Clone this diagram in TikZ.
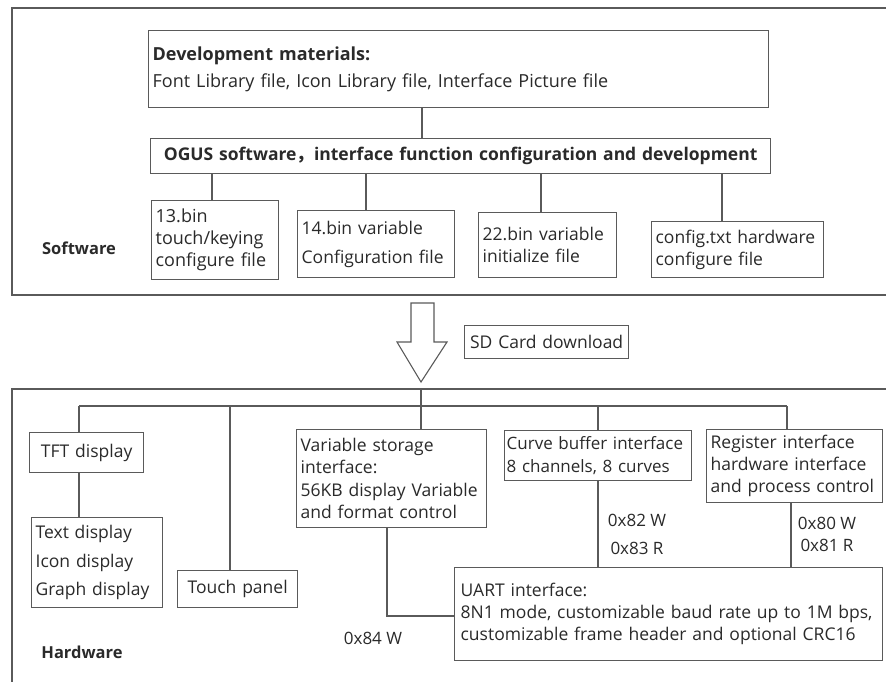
\documentclass[tikz,border=0pt]{standalone}
\usepackage{fontspec}
\setmainfont{Open Sans}
\newfontfamily\cjk{Noto Sans CJK SC}
\newcommand\fs[2]{\fontsize{#1}{#2}\selectfont}
\definecolor{linec}{HTML}{5A5A5A}
\definecolor{textc}{HTML}{2A2A2A}
\begin{document}
\begin{tikzpicture}[x=1pt,y=-1pt,
  every node/.style={text=textc},
  line/.style={draw=linec,line width=1.3pt},
  box/.style={draw=linec,line width=1.3pt,anchor=north west,align=left,inner xsep=4pt,inner ysep=0pt},
  lbl/.style={inner sep=0pt}]
\useasboundingbox[fill=white] (0,0) rectangle (886,681);
% outer frames
\draw[line] (886,8) -- (12,8) -- (12,295) -- (886,295);
\draw[line] (886,389) -- (12,389) -- (12,685);
% software part
\node[box,minimum width=620pt,minimum height=77pt,text width=612pt,font=\fs{18}{27}] (dev) at (148,30)
  {\textbf{Development materials:}\\Font Library file, Icon Library file, Interface Picture file};
\node[box,minimum width=620pt,minimum height=35pt,align=center,text width=612pt,font=\fs{17.5}{20}] (ogus) at (150,138)
  {\textbf{OGUS software{\cjk ，}interface function configuration and development}};
\node[box,minimum width=127pt,minimum height=79pt,text width=119pt,font=\fs{18}{22}] (b13) at (151,200)
  {13.bin\\touch/keying\\configure file};
\node[box,minimum width=157pt,minimum height=67pt,text width=149pt,font=\fs{17.5}{29}] (b14) at (297,210)
  {14.bin variable\\Configuration file};
\node[box,minimum width=138pt,minimum height=65pt,text width=130pt,font=\fs{17.5}{22}] (b22) at (478,212)
  {22.bin variable\\initialize file};
\node[box,minimum width=172pt,minimum height=56pt,text width=164pt,font=\fs{17.5}{22}] (cfg) at (651,221)
  {config.txt hardware\\configure file};
\node[lbl,font=\fs{16.5}{20}] (sw) at (79,248) {\textbf{Software}};
\draw[line] (dev.south -| 422,0) -- (ogus.north -| 422,0);
\draw[line] (ogus.south -| 212,0) -- (b13.north -| 212,0);
\draw[line] (ogus.south -| 366,0) -- (b14.north -| 366,0);
\draw[line] (ogus.south -| 541,0) -- (b22.north -| 541,0);
\draw[line] (ogus.south -| 722,0) -- (cfg.north -| 722,0);
% download arrow
\draw[draw=linec,line width=1.1pt,fill=white] (411,303) -- (434,303) -- (434,342) -- (447,342) -- (421,382) -- (397,342) -- (411,342) -- cycle;
\node[box,minimum width=164pt,minimum height=33pt,align=center,text width=156pt,font=\fs{17.5}{20}] (sd) at (464,325)
  {SD Card download};
% hardware part
\coordinate (hwtop) at (421,389);
\coordinate (busL) at (79,406);
\coordinate (busR) at (787,406);
\node[box,minimum width=114pt,minimum height=40pt,align=center,text width=106pt,font=\fs{17.5}{20}] (tft) at (29,432)
  {TFT display};
\node[box,minimum width=131pt,minimum height=90pt,text width=123pt,font=\fs{17.5}{28.5}] (txt) at (31,517)
  {Text display\\Icon display\\Graph display};
\node[box,minimum width=120pt,minimum height=37pt,align=center,text width=112pt,font=\fs{17.5}{20}] (touch) at (177,570)
  {Touch panel};
\node[box,minimum width=190pt,minimum height=98pt,text width=182pt,font=\fs{17.5}{22.5}] (var) at (296,429)
  {Variable storage\\interface:\\56KB display Variable\\and format control};
\node[box,minimum width=187pt,minimum height=50pt,text width=183pt,inner xsep=2pt,font=\fs{17}{22.5}] (curve) at (504,430)
  {\hyphenpenalty=10000 Curve buffer interface\\8 channels, 8 curves};
\node[box,minimum width=176pt,minimum height=73pt,text width=168pt,font=\fs{17.5}{22}] (reg) at (706,429)
  {Register interface\\hardware interface\\and process control};
\node[box,minimum width=428pt,minimum height=93pt,text width=416pt,inner xsep=6pt,font=\fs{17.5}{22}] (uart) at (454,567)
  {UART interface:\\8N1 mode, customizable baud rate up to 1M bps,\\customizable frame header and optional CRC16};
\draw[line] (busL) -- (busR);
\draw[line] (hwtop) -- (hwtop |- busL);
\draw[line] (busL) -- (tft.north -| busL);
\draw[line] (tft.south -| busL) -- (txt.north -| busL);
\draw[line] (busL -| 230,0) -- (touch.north -| 230,0);
\draw[line] (busL -| 421,0) -- (var.north -| 421,0);
\draw[line] (busL -| 598,0) -- (curve.north -| 598,0);
\draw[line] (busR) -- (reg.north -| busR);
\draw[line] (var.south -| 387,0) |- (uart.west |- 0,616);
\draw[line] (curve.south -| 598,0) -- (uart.north -| 598,0);
\draw[line] (reg.south -| 791,0) -- (uart.north -| 791,0);
\node[lbl,font=\fs{17}{18}] (l84) at (373,638) {0x84 W};
\node[lbl,font=\fs{17}{18}] (l82) at (637,520) {0x82 W};
\node[lbl,font=\fs{17}{18}] (l83) at (637,548) {0x83 R};
\node[lbl,font=\fs{17}{18}] (l80) at (827,523) {0x80 W};
\node[lbl,font=\fs{17}{18}] (l81) at (827,545) {0x81 R};
\node[lbl,font=\fs{16.5}{20}] (hw) at (82,652) {\textbf{Hardware}};
\end{tikzpicture}
\end{document}
